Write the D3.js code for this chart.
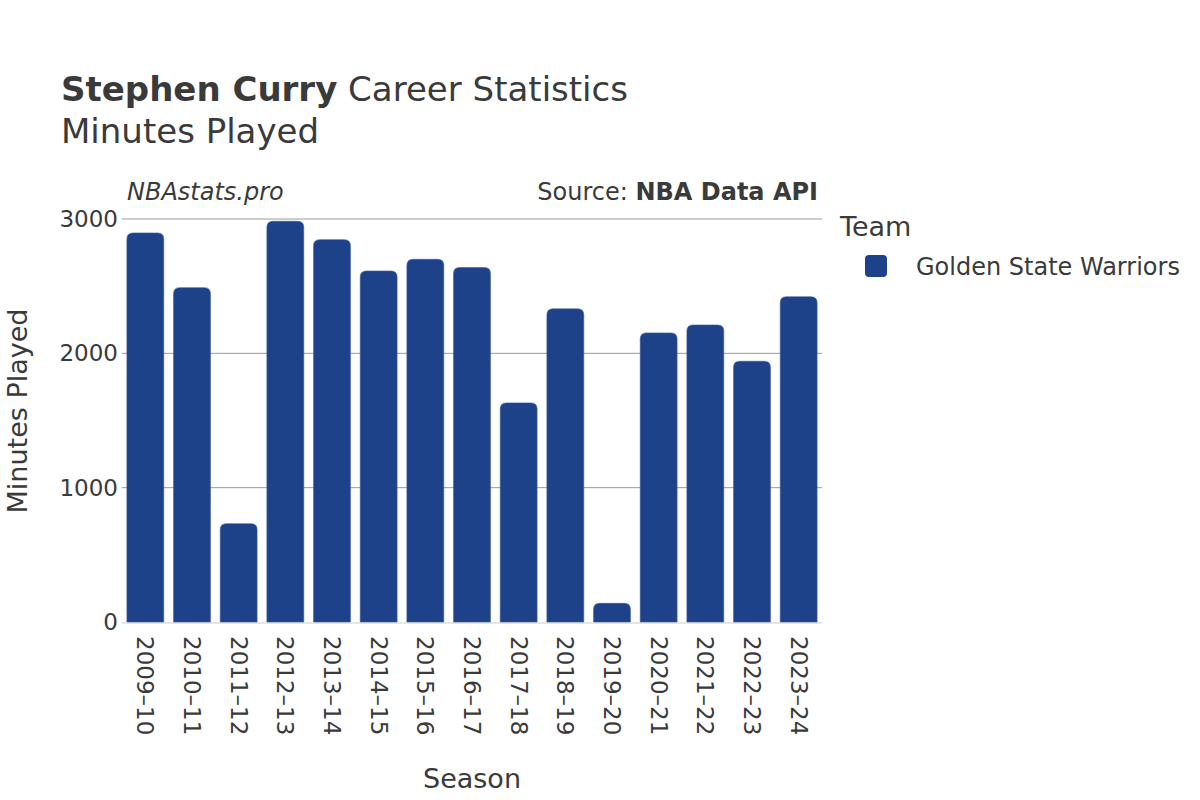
<!DOCTYPE html>
<html><head><meta charset="utf-8">
<script src="https://cdn.jsdelivr.net/npm/d3@7"></script>
<style>body{margin:0;background:#fff}text{font-family:"DejaVu Sans",sans-serif;fill:#3a3a3a}</style>
</head><body><svg id="c" width="1200" height="800"></svg>
<script>
const seasons = ["2009–10","2010–11","2011–12","2012–13","2013–14","2014–15","2015–16","2016–17","2017–18","2018–19","2019–20","2020–21","2021–22","2022–23","2023–24"];
const minutes = [2896,2489,732,2983,2846,2613,2700,2639,1631,2331,139,2152,2211,1941,2421];
const yTicks = [0,1000,2000,3000];
const teamName = "Golden State Warriors";
const barColor = "#1d428a";

const svg = d3.select("#c");
const m = {l:122, r:822, t:219, b:622};
const x = d3.scaleBand().domain(seasons).range([m.l, m.r]).paddingInner(0.21).paddingOuter(0.105);
const y = d3.scaleLinear().domain([0,3000]).range([m.b, m.t]);

// grid
svg.append("g").selectAll("line").data(yTicks.filter(d=>d>0)).join("line")
  .attr("x1", m.l).attr("x2", m.r).attr("y1", d=>y(d)).attr("y2", d=>y(d))
  .attr("stroke","#9a9a9a").attr("stroke-width",1);
svg.append("line").attr("x1",m.l).attr("x2",m.r).attr("y1",y(0)+1).attr("y2",y(0)+1)
  .attr("stroke","#e6e6e6").attr("stroke-width",2);

// bars with rounded top corners
const r = 6;
function barPath(d,i){
  const x0 = x(seasons[i]), w = x.bandwidth(), y0 = y(d), yb = y(0);
  const rr = Math.min(r, (yb-y0), w/2);
  return `M${x0},${yb}V${y0+rr}Q${x0},${y0} ${x0+rr},${y0}H${x0+w-rr}Q${x0+w},${y0} ${x0+w},${y0+rr}V${yb}Z`;
}
svg.append("g").selectAll("path").data(minutes).join("path")
  .attr("d", barPath).attr("fill", barColor).attr("stroke","#3a5a9a").attr("stroke-width",0.6);

// y axis labels
svg.append("g").selectAll("text").data(yTicks).join("text")
  .attr("x", 118).attr("y", d=>y(d)).attr("dy","0.35em").attr("text-anchor","end")
  .attr("font-size",23).text(d=>d);

// x axis labels rotated
svg.append("g").selectAll("text").data(seasons).join("text")
  .attr("transform", d=>`translate(${x(d)+x.bandwidth()/2},${636}) rotate(90)`)
  .attr("dy","0.35em").attr("font-size",23).text(d=>d);

// titles
const t = svg.append("text").attr("x",61).attr("y",101).attr("font-size",34);
t.append("tspan").attr("font-weight","bold").text("Stephen Curry");
t.append("tspan").text(" Career Statistics");
svg.append("text").attr("x",61).attr("y",143).attr("font-size",34).text("Minutes Played");

svg.append("text").attr("x",127).attr("y",200).attr("font-size",24).attr("font-style","italic").text("NBAstats.pro");
const s = svg.append("text").attr("x",818).attr("y",200).attr("font-size",24).attr("text-anchor","end");
s.append("tspan").text("Source: ");
s.append("tspan").attr("font-weight","bold").text("NBA Data API");

svg.append("text").attr("x",472).attr("y",788).attr("font-size",27).attr("text-anchor","middle").text("Season");
svg.append("text").attr("transform","translate(27,411) rotate(-90)").attr("font-size",27).attr("text-anchor","middle").text("Minutes Played");

// legend
svg.append("text").attr("x",840).attr("y",236).attr("font-size",27).text("Team");
svg.append("rect").attr("x",865).attr("y",255).attr("width",22).attr("height",22).attr("rx",4).attr("fill",barColor);
svg.append("text").attr("x",916).attr("y",275).attr("font-size",24).text(teamName);
</script></body></html>
